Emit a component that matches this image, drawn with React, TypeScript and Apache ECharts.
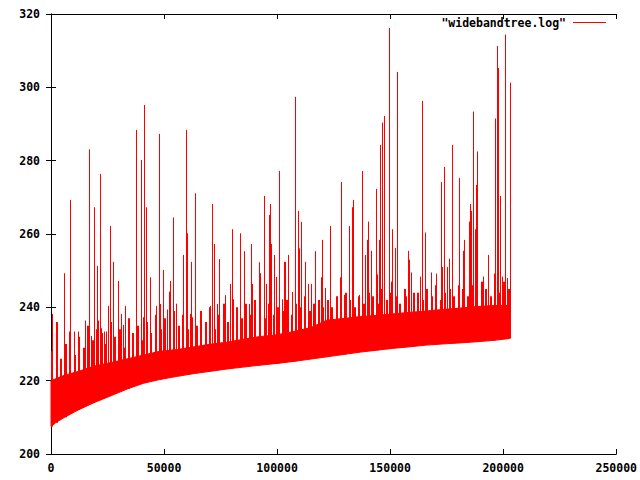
import React, { useEffect, useRef } from "react";
import * as echarts from "echarts";

// x-axis ticks and y-axis ticks
const xTicks = [0, 50000, 100000, 150000, 200000, 250000];
const yTicks = [200, 220, 240, 260, 280, 300, 320];

// dense band: lower envelope and solid top
const bandX = [0, 2000, 6000, 12000, 19000, 27000, 34000, 41000, 48000, 56000, 64000, 71000, 78000, 85000, 92000, 100000, 108000, 115000, 122000, 130000, 137000, 144000, 151000, 158000, 166000, 173000, 181000, 188000, 196000, 202800];
const bandLow = [207.5, 208.5, 210, 212, 214, 216, 217.8, 219.3, 220.3, 221.2, 222, 222.6, 223.2, 223.7, 224.2, 224.7, 225.3, 225.9, 226.5, 227.2, 227.8, 228.3, 228.8, 229.2, 229.7, 230, 230.3, 230.6, 231, 231.5];
const bandTop = [220, 220.5, 221.5, 222.5, 224, 225, 226, 227, 228, 228.5, 229.3, 230, 230.5, 231.3, 232, 232.5, 233.5, 234.5, 236.5, 237, 237.5, 237.8, 238.2, 238.6, 239, 239.4, 239.8, 240.2, 240.5, 240.5];

// ragged column tops of the band, one every 2000 from 0 to 202000
const ridgeStep = 2000;
const ridgeTop = [
  228, 236, 226, 230, 233, 227, 232, 229, 235, 231, 234,
  233, 230, 236, 232, 234, 229, 237, 233, 235, 231,
  236, 233, 238, 234, 237, 232, 239, 235, 238, 234,
  237, 235, 239, 236, 240, 234, 238, 241, 236, 239,
  240, 237, 241, 238, 242, 239, 237, 241, 238, 240,
  239, 242, 238, 241, 240, 243, 239, 241, 242, 240,
  242, 240, 243, 241, 244, 242, 240, 243, 241, 244,
  243, 241, 245, 242, 244, 243, 241, 245, 242, 244,
  244, 242, 245, 243, 246, 242, 244, 245, 243, 246,
  245, 243, 246, 244, 247, 245, 243, 246, 244, 247, 245,
];

// spikes above the band: [x, peak]
const spikes: [number, number][] = [
  [400, 238.2], [5800, 249.3], [7800, 233.4], [8500, 269.3], [10100, 233.4], [11800, 233.4], [15000, 236.4],
  [16800, 283.1], [17600, 232.2], [19000, 267.3], [20300, 251.3], [20800, 236.4], [21600, 276.4], [22200, 234.3],
  [23300, 233.4], [24500, 233.4], [25000, 240.4], [26300, 262.2], [27300, 252.4], [29500, 247.2], [30800, 238.2],
  [31700, 235.2], [32900, 240.4], [34600, 236.4], [37400, 288.4], [38300, 233.4], [39800, 280.2], [40900, 237.3],
  [41200, 295.2], [41800, 257.3], [42200, 267.3], [43900, 248.2], [46500, 240.4], [47900, 287.3], [48300, 240.9],
  [49700, 250.2], [51400, 239.4], [52300, 244.3], [52800, 247.2], [54100, 264.5], [55100, 241], [58500, 254.3],
  [59800, 288.4], [60200, 260.2], [61300, 238.2], [62000, 252.4], [62500, 237.3],
  [63600, 271.1], [70400, 240.4], [71200, 268.2], [72100, 257.3], [73400, 240.9], [74100, 253.1], [74500, 253.1],
  [76300, 240.4], [77000, 243.3], [79200, 246.4], [80100, 261.3], [80400, 242.2], [83500, 260.2], [85200, 255.3],
  [87400, 240.9], [88300, 257.3], [89100, 246.4], [91800, 252.3], [92300, 249.3], [94300, 270.4], [95100, 246.4],
  [96300, 265.2], [96800, 268.2], [97300, 257.3], [98800, 254.3], [99300, 248.3], [101000, 277.2], [102000, 242.2],
  [103000, 252.4], [103400, 252.4], [105000, 254.3], [106500, 244.2], [108000, 297.4], [109400, 266.3], [109800, 256.1],
  [110400, 263.3], [112300, 252.4], [113600, 246.4], [115000, 246.4], [116800, 255.3], [119300, 248.2], [119700, 258.4],
  [121400, 245.3], [123400, 262.2], [126500, 240], [127700, 248.2], [128200, 274.2],
  [129600, 243.4], [131700, 262.2], [133000, 267.3], [133500, 269.3], [136100, 243.4], [137400, 277.2], [138700, 254.3],
  [139600, 258.4], [140000, 263.4], [141400, 255.4], [143600, 272.3], [144000, 249], [145000, 258.4], [145300, 284.3],
  [145700, 268.2], [146200, 290.4], [147100, 292.2], [147500, 284.3], [149700, 316.2], [150300, 247], [151000, 261.3],
  [152300, 256.2], [153200, 304.2], [157200, 243], [158000, 255.4], [158500, 253], [159400, 249.5], [163200, 248.4],
  [164200, 296.3], [165500, 260.4], [168100, 249.5], [170300, 249.2], [172500, 274.2], [172900, 251], [173800, 278.3],
  [175200, 251], [176100, 253.3], [177300, 284.3], [180400, 275.3], [182200, 255.4], [182600, 258.4], [184800, 263.4],
  [185200, 268.2], [185600, 266.3], [186500, 293.4], [187400, 261.3], [187900, 273.4], [188300, 282.5], [191000, 248.4],
  [193400, 254.3], [195800, 249.2], [196200, 291.5], [197100, 311.3], [197900, 305.3], [198800, 270.4], [199600, 248.4],
  [201000, 314.4], [201500, 248], [202800, 301.3],
];

const legendText = '"widebandtree.log"';
const FONT = "DejaVu Sans Mono";

function lowAt(x: number): number {
  for (let i = 0; i < bandX.length; i++) if (bandX[i] >= x) return bandLow[i];
  return bandLow[bandLow.length - 1];
}

export default function App() {
  const ref = useRef<HTMLDivElement>(null);
  useEffect(() => {
    if (!ref.current) return;
    const chart = echarts.init(ref.current, null, { renderer: "svg" });
    const label = { color: "#000", fontFamily: FONT, fontWeight: "bold" as const, fontSize: 11.5 };
    const axisCommon = {
      type: "value" as const,
      axisLine: { show: true, lineStyle: { color: "#000", width: 1 } },
      axisTick: { show: true, inside: true, length: 5, lineStyle: { color: "#000" } },
      splitLine: { show: false },
    };
    const red = "#ff0000";
    chart.setOption({
      animation: false,
      grid: { left: 51, right: 20, top: 14, bottom: 26, containLabel: false },
      xAxis: [
        { ...axisCommon, position: "bottom", min: xTicks[0], max: xTicks[xTicks.length - 1], interval: 50000,
          axisLabel: { ...label, margin: 8, formatter: (v: number) => String(v) } },
        { ...axisCommon, position: "top", min: xTicks[0], max: xTicks[xTicks.length - 1], interval: 50000,
          axisLabel: { show: false } },
      ],
      yAxis: [
        { ...axisCommon, position: "left", min: yTicks[0], max: yTicks[yTicks.length - 1], interval: 20,
          axisLabel: { ...label, margin: 11, formatter: (v: number) => String(v) } },
        { ...axisCommon, position: "right", min: yTicks[0], max: yTicks[yTicks.length - 1], interval: 20,
          axisLabel: { show: false } },
      ],
      series: [
        {
          type: "custom",
          xAxisIndex: 0,
          yAxisIndex: 0,
          data: bandX.map((x, i) => [x, bandLow[i], bandTop[i]]),
          encode: { x: 0, y: [1, 2] },
          renderItem: (params: any, api: any) => {
            if (params.dataIndex !== 0) return null;
            const pts: number[][] = [];
            for (let i = 0; i < bandX.length; i++) pts.push(api.coord([bandX[i], bandLow[i]]));
            for (let i = bandX.length - 1; i >= 0; i--) pts.push(api.coord([bandX[i], bandTop[i]]));
            return { type: "polygon", shape: { points: pts }, style: { fill: red, stroke: red, lineWidth: 1 } };
          },
        },
        {
          type: "custom",
          xAxisIndex: 0,
          yAxisIndex: 0,
          data: ridgeTop.map((t, i) => [i * ridgeStep, t, lowAt(i * ridgeStep)]),
          encode: { x: 0, y: [1, 2] },
          renderItem: (params: any, api: any) => {
            const x = api.value(0);
            const top = api.coord([x, api.value(1)]);
            const bot = api.coord([x, api.value(2)]);
            const px = Math.round(top[0]);
            return {
              type: "rect",
              shape: { x: px, y: top[1], width: 2, height: bot[1] - top[1] },
              style: { fill: red },
            };
          },
        },
        {
          type: "custom",
          xAxisIndex: 0,
          yAxisIndex: 0,
          data: spikes.map((s) => [s[0], s[1], lowAt(s[0])]),
          encode: { x: 0, y: [1, 2] },
          renderItem: (params: any, api: any) => {
            const x = api.value(0);
            const top = api.coord([x, api.value(1)]);
            const bot = api.coord([x, api.value(2)]);
            const px = Math.round(top[0]) + 0.5;
            return {
              type: "line",
              shape: { x1: px, y1: top[1], x2: px, y2: bot[1] },
              style: { stroke: red, lineWidth: 1 },
            };
          },
        },
      ],
      graphic: [
        { type: "text", x: 566, y: 23,
          style: { text: legendText, fill: "#000", font: `bold 11.5px "${FONT}"`, textAlign: "right", textVerticalAlign: "middle" } },
        { type: "line", shape: { x1: 573, y1: 22.5, x2: 606, y2: 22.5 }, style: { stroke: red, lineWidth: 1 } },
      ],
    });
    return () => chart.dispose();
  }, []);
  return <div ref={ref} style={{ position: "fixed", left: 0, top: 0, width: 640, height: 480, background: "#fff" }} />;
}
